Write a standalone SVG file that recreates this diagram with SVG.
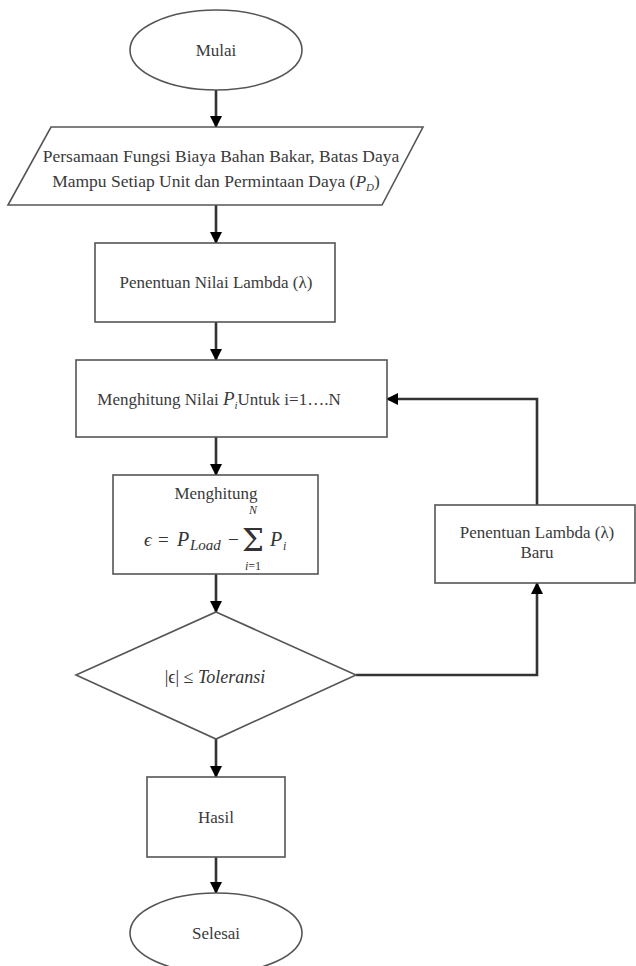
<svg xmlns="http://www.w3.org/2000/svg" width="636" height="966" viewBox="0 0 636 966">
<style>
.bg{fill:#ffffff}
.shape{fill:#ffffff;stroke:#555555;stroke-width:1.6}
.conn{fill:none;stroke:#333333;stroke-width:2.6}
.t{font-family:"Liberation Serif","Times New Roman",serif;font-size:17px;fill:#3a3a3a;text-anchor:middle}
.m{font-family:"Liberation Serif","Times New Roman",serif;fill:#333333}
.i{font-style:italic}
</style>
<defs>
<marker id="ah" markerUnits="userSpaceOnUse" markerWidth="12" markerHeight="12" viewBox="0 0 12 12" refX="11" refY="6" orient="auto">
<path d="M0,0 L12,6 L0,12 Z" fill="#000000"/>
</marker>
</defs>
<rect class="bg" x="0" y="0" width="636" height="966"/>
<g id="connectors">
<line class="conn" x1="216" y1="90" x2="216" y2="127" marker-end="url(#ah)"/>
<line class="conn" x1="216" y1="205" x2="216" y2="243" marker-end="url(#ah)"/>
<line class="conn" x1="216" y1="322" x2="216" y2="360" marker-end="url(#ah)"/>
<line class="conn" x1="216" y1="437" x2="216" y2="475" marker-end="url(#ah)"/>
<line class="conn" x1="216" y1="574" x2="216" y2="612" marker-end="url(#ah)"/>
<line class="conn" x1="216" y1="739" x2="216" y2="777" marker-end="url(#ah)"/>
<line class="conn" x1="216" y1="857" x2="216" y2="893" marker-end="url(#ah)"/>
<polyline class="conn" points="356,675 537,675 537,583" marker-end="url(#ah)"/>
<polyline class="conn" points="537,505 537,399 387,399" marker-end="url(#ah)"/>
</g>
<g id="mulai">
<ellipse class="shape" cx="216" cy="50" rx="86" ry="40"/>
<text class="t" x="216" y="56">Mulai</text>
</g>
<g id="input">
<polygon class="shape" points="51,127 423,127 382,205 8,205"/>
<text class="t" x="221" y="162" style="font-size:17.5px">Persamaan Fungsi Biaya Bahan Bakar, Batas Daya</text>
<text class="t" x="216" y="187" style="font-size:17.5px">Mampu Setiap Unit dan Permintaan Daya (<tspan class="i">P</tspan><tspan class="i" dy="4" style="font-size:11px">D</tspan><tspan dy="-4">)</tspan></text>
</g>
<g id="lambda">
<rect class="shape" x="95" y="243" width="240" height="79"/>
<text class="t" x="216" y="288">Penentuan Nilai Lambda (λ)</text>
</g>
<g id="hitung-p">
<rect class="shape" x="76" y="360" width="311" height="77"/>
<text class="t" x="219" y="405">Menghitung Nilai <tspan class="i" style="font-size:19px">P</tspan><tspan class="i" dy="4" style="font-size:11px">i</tspan><tspan dy="-4">Untuk i=1….N</tspan></text>
</g>
<g id="hitung-e">
<rect class="shape" x="113" y="475" width="205" height="99"/>
<text class="t" x="216" y="499">Menghitung</text>
<text class="m i" x="144" y="546" style="font-size:19px">ϵ</text>
<text class="m" x="158" y="546" style="font-size:19px">=</text>
<text class="m i" x="177" y="546" style="font-size:20px">P</text>
<text class="m i" x="190" y="550" style="font-size:15px">Load</text>
<text class="m" x="228" y="546" style="font-size:19px">−</text>
<text x="253" y="551" style="font-family:'DejaVu Serif',serif;font-size:31px;fill:#333333;text-anchor:middle">Σ</text>
<text class="m i" x="253" y="514" style="font-size:12px;text-anchor:middle">N</text>
<text class="m" x="253" y="570" style="font-size:12px;text-anchor:middle"><tspan class="i">i</tspan>=1</text>
<text class="m i" x="270" y="546" style="font-size:20px">P</text>
<text class="m i" x="283" y="550" style="font-size:12px">i</text>
</g>
<g id="decision">
<polygon class="shape" points="216,612 356,675 216,739 76,675"/>
<text class="m" x="215" y="683" style="font-size:18px;text-anchor:middle">|ϵ| ≤ <tspan class="i">Toleransi</tspan></text>
</g>
<g id="lambda-baru">
<rect class="shape" x="435" y="505" width="200" height="78"/>
<text class="t" x="537" y="538">Penentuan Lambda (λ)</text>
<text class="t" x="537" y="558">Baru</text>
</g>
<g id="hasil">
<rect class="shape" x="147" y="777" width="138" height="80"/>
<text class="t" x="216" y="823">Hasil</text>
</g>
<g id="selesai">
<ellipse class="shape" cx="216" cy="933" rx="86" ry="40"/>
<text class="t" x="216" y="939">Selesai</text>
</g>
</svg>
